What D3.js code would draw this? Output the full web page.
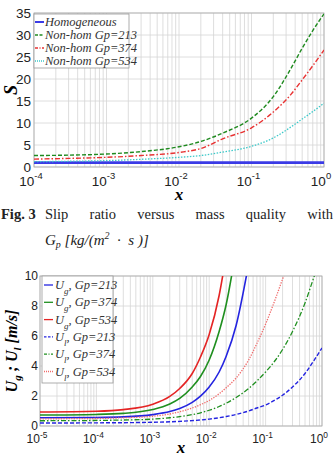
<!DOCTYPE html>
<html>
<head>
<meta charset="utf-8">
<script src="https://cdn.jsdelivr.net/npm/d3@7"></script>
<style>
  body { margin: 0; background: #fff; }
  svg { display: block; }
</style>
</head>
<body>
<div id="vis"></div>
<script>
const FRAME_WIDTH = 334;
const FRAME_HEIGHT = 456;

// ---- chart 1: slip ratio S vs x ----
const S_X = [1e-4, 3e-4, 1e-3, 3e-3, 1e-2, 2e-2, 4e-2, 0.1, 0.2, 0.35, 0.5, 0.7, 1];
const S_HOMOG = [1, 1, 1, 1, 1, 1, 1, 1, 1, 1, 1, 1, 1];
const S_GP213 = [2.6, 2.7, 2.95, 3.5, 4.6, 5.8, 7.7, 11.1, 16, 22.4, 27, 31, 34.8];
const S_GP374 = [1.8, 1.95, 2.2, 2.6, 3.3, 4.2, 6.4, 8.9, 12.5, 16.5, 19.8, 23, 26.6];
const S_GP534 = [1.2, 1.3, 1.45, 1.75, 2.2, 2.6, 3.4, 4.7, 6.6, 9.1, 10.9, 12.6, 14.5];
const S_LEGEND = ["Homogeneous", "Non-hom Gp=213", "Non-hom Gp=374", "Non-hom Gp=534"];
const S_YTICKS = [0, 5, 10, 15, 20, 25, 30, 35];

// ---- chart 2: velocities vs x ----
const U_X = [1e-5, 1e-4, 3e-4, 1e-3, 2e-3, 3e-3, 5e-3, 7e-3, 1e-2, 1.5e-2, 2e-2, 3e-2,
  5e-2, 7e-2, 0.1, 0.15, 0.2, 0.3, 0.5, 0.7, 1];
const UG_213 = [0.55, 0.57, 0.61, 0.76, 0.96, 1.17, 1.58, 1.99, 2.6, 3.6, 4.65, 6.7, 10.8];
const UG_374 = [0.73, 0.77, 0.84, 1.1, 1.47, 1.84, 2.6, 3.3, 4.4, 6.3, 8.1, 11.8];
const UG_534 = [0.93, 0.98, 1.09, 1.45, 1.97, 2.5, 3.5, 4.6, 6.1, 8.7, 11.4];
const UL_213 = [0.2, 0.21, 0.22, 0.25, 0.28, 0.31, 0.36, 0.4, 0.46, 0.55, 0.63, 0.77,
  1.0, 1.2, 1.4, 1.75, 2.05, 2.6, 3.5, 4.3, 5.2];
const UL_374 = [0.35, 0.37, 0.4, 0.46, 0.55, 0.62, 0.76, 0.88, 1.05, 1.3, 1.52, 1.9,
  2.5, 3.0, 3.6, 4.4, 5.1, 6.3, 8.2, 9.8, 11.5];
const UL_534 = [0.48, 0.5, 0.55, 0.65, 0.8, 0.95, 1.2, 1.42, 1.7, 2.15, 2.55, 3.2,
  4.4, 5.5, 6.8, 8.5, 9.8, 11.5];
const U_LEGEND = [["g", ", Gp=213"], ["g", ", Gp=374"], ["g", ", Gp=534"],
  ["l", ", Gp=213"], ["l", ", Gp=374"], ["l", ", Gp=534"]];
const U_YTICKS = [0, 2, 4, 6, 8, 10];

const CAPTION_WORDS = ["Slip", "ratio", "versus", "mass", "quality", "with"];

const SERIF = "'Liberation Serif', 'DejaVu Serif', serif";
const SANS = "'Liberation Sans', Arial, sans-serif";

const svg = d3.select("#vis").append("svg")
  .attr("width", FRAME_WIDTH)
  .attr("height", FRAME_HEIGHT);

function drawPanel(cfg) {
  const X = d3.scaleLog().domain(cfg.xDomain).range([cfg.left, cfg.right]);
  const Y = d3.scaleLinear().domain(cfg.yDomain).range([cfg.bottom, cfg.top]);
  const g = svg.append("g");

  g.append("clipPath").attr("id", cfg.id + "-clip")
    .append("rect")
    .attr("x", cfg.left).attr("y", cfg.top)
    .attr("width", cfg.right - cfg.left).attr("height", cfg.bottom - cfg.top);

  // grid
  g.selectAll(".vgrid").data(X.ticks()).enter().append("line")
    .attr("x1", (d) => X(d)).attr("x2", (d) => X(d))
    .attr("y1", cfg.top).attr("y2", cfg.bottom)
    .attr("stroke", "#d6d6d6").attr("stroke-width", 0.8);
  g.selectAll(".hgrid").data(cfg.yTicks).enter().append("line")
    .attr("x1", cfg.left).attr("x2", cfg.right)
    .attr("y1", (d) => Y(d)).attr("y2", (d) => Y(d))
    .attr("stroke", "#d6d6d6").attr("stroke-width", 0.8);

  g.append("rect")
    .attr("x", cfg.left).attr("y", cfg.top)
    .attr("width", cfg.right - cfg.left).attr("height", cfg.bottom - cfg.top)
    .attr("fill", "none").attr("stroke", "#aaa").attr("stroke-width", 0.8);

  // y tick labels
  g.selectAll(".ylab").data(cfg.yTicks).enter().append("text")
    .attr("x", cfg.left - cfg.yLabGap)
    .attr("y", (d) => Y(d))
    .attr("dy", "0.36em")
    .attr("text-anchor", "end")
    .style("font-family", SANS)
    .style("font-size", cfg.tickSize + "px")
    .attr("fill", "#222")
    .text((d) => d);

  // x tick labels 10^n
  const majors = X.ticks().filter((d) => Math.abs(Math.log10(d) - Math.round(Math.log10(d))) < 1e-9);
  const xl = g.selectAll(".xlab").data(majors).enter().append("text")
    .attr("x", (d) => X(d) - 3)
    .attr("y", cfg.bottom + cfg.tickSize + 5)
    .attr("text-anchor", "middle")
    .style("font-family", SANS)
    .style("font-size", cfg.tickSize + "px")
    .attr("fill", "#222");
  xl.append("tspan").text("10");
  xl.append("tspan")
    .attr("dy", -cfg.tickSize * 0.45)
    .style("font-size", (cfg.tickSize * 0.7) + "px")
    .text((d) => {
      const e = Math.round(Math.log10(d));
      return e < 0 ? "-" + (-e) : String(e);
    });

  // x label
  g.append("text")
    .attr("x", (cfg.left + cfg.right) / 2)
    .attr("y", cfg.xLabelY)
    .attr("text-anchor", "middle")
    .style("font-family", SERIF)
    .style("font-style", "italic")
    .style("font-weight", "bold")
    .style("font-size", "17px")
    .text("x");

  // series
  const lines = g.append("g").attr("clip-path", `url(#${cfg.id}-clip)`);
  cfg.series.forEach((s) => {
    const pts = s.values.map((v, i) => [cfg.xs[i], v]);
    const line = d3.line()
      .x((d) => X(d[0]))
      .y((d) => Y(d[1]))
      .curve(d3.curveMonotoneX);
    lines.append("path")
      .attr("d", line(pts))
      .attr("fill", "none")
      .attr("stroke", s.color)
      .attr("stroke-width", s.width)
      .attr("stroke-dasharray", s.dash);
  });

  return { X, Y, g };
}

// ---------- panel 1 ----------
const P1 = drawPanel({
  id: "p1",
  xDomain: [1e-4, 1], yDomain: [0, 35],
  left: 34, right: 324, top: 13, bottom: 167,
  yTicks: S_YTICKS, tickSize: 13.5, yLabGap: 3, xLabelY: 200,
  xs: S_X,
  series: [
    { values: S_HOMOG, color: "#3b3be6", width: 2.6, dash: null },
    { values: S_GP213, color: "#1f8a1f", width: 1.4, dash: "4,2" },
    { values: S_GP374, color: "#e83232", width: 1.4, dash: "5,2,1.5,2" },
    { values: S_GP534, color: "#3cc9c9", width: 1.3, dash: "1.5,1.5" },
  ],
});

P1.g.append("text")
  .attr("transform", "translate(17,90) rotate(-90)")
  .attr("text-anchor", "middle")
  .style("font-family", SERIF)
  .style("font-style", "italic")
  .style("font-weight", "bold")
  .style("font-size", "18px")
  .text("S");

const LEG1 = { x: 34, y: 14, w: 95, h: 54 };
const leg1 = P1.g.append("g");
leg1.append("rect")
  .attr("x", LEG1.x).attr("y", LEG1.y).attr("width", LEG1.w).attr("height", LEG1.h)
  .attr("fill", "#fff").attr("stroke", "#999").attr("stroke-width", 0.8);
const leg1Styles = [
  { color: "#3b3be6", width: 2, dash: null },
  { color: "#1f8a1f", width: 1.3, dash: "3,1.5" },
  { color: "#e83232", width: 1.3, dash: "3,1.5,1,1.5" },
  { color: "#3cc9c9", width: 1.3, dash: "1,1" },
];
S_LEGEND.forEach((name, i) => {
  const cy = 22 + i * 13;
  leg1.append("line")
    .attr("x1", LEG1.x + 1).attr("x2", LEG1.x + 10)
    .attr("y1", cy).attr("y2", cy)
    .attr("stroke", leg1Styles[i].color)
    .attr("stroke-width", leg1Styles[i].width)
    .attr("stroke-dasharray", leg1Styles[i].dash);
  leg1.append("text")
    .attr("x", LEG1.x + 11).attr("y", cy).attr("dy", "0.35em")
    .style("font-family", SERIF)
    .style("font-style", "italic")
    .style("font-size", "12.5px")
    .attr("fill", "#333")
    .text(name);
});

// ---------- caption ----------
const cap = svg.append("g");
const capY = 219;
cap.append("text")
  .attr("x", 1).attr("y", capY)
  .style("font-family", SERIF).style("font-weight", "bold").style("font-size", "14.5px")
  .attr("fill", "#222")
  .text("Fig. 3");
const words = cap.selectAll(".w").data(CAPTION_WORDS).enter().append("text")
  .attr("y", capY)
  .style("font-family", SERIF).style("font-size", "14.5px")
  .attr("fill", "#222")
  .text((d) => d);
{
  const startX = 45, endX = 333;
  const widths = [];
  words.each(function () { widths.push(this.getComputedTextLength()); });
  const gap = (endX - startX - d3.sum(widths)) / (widths.length - 1);
  let cx = startX;
  words.attr("x", (d, i) => { const x0 = cx; cx += widths[i] + gap; return x0; });
}
const cap2 = cap.append("text")
  .attr("x", 45).attr("y", 245)
  .style("font-family", SERIF).style("font-style", "italic").style("font-size", "15px")
  .attr("fill", "#222");
cap2.append("tspan").text("G");
cap2.append("tspan").attr("dy", 3).style("font-size", "10px").text("p");
cap2.append("tspan").attr("dy", -3).text(" [kg/(m");
cap2.append("tspan").attr("dy", -6).style("font-size", "10px").text("2");
cap2.append("tspan").attr("dy", 6).text(" \u00a0\u00b7\u00a0 s )]");

// ---------- panel 2 ----------
const P2 = drawPanel({
  id: "p2",
  xDomain: [1e-5, 1], yDomain: [0, 10],
  left: 40, right: 322, top: 276, bottom: 426,
  yTicks: U_YTICKS, tickSize: 12, yLabGap: 2, xLabelY: 453,
  xs: U_X,
  series: [
    { values: UG_213, color: "#2424e0", width: 1.6, dash: null },
    { values: UG_374, color: "#1f8f1f", width: 1.6, dash: null },
    { values: UG_534, color: "#e42424", width: 1.6, dash: null },
    { values: UL_213, color: "#2424e0", width: 1.4, dash: "4,2" },
    { values: UL_374, color: "#1f8f1f", width: 1.3, dash: "5,2,1.5,2" },
    { values: UL_534, color: "#f06a6a", width: 1.3, dash: "1.3,1.3" },
  ],
});

const yl2 = P2.g.append("text")
  .attr("transform", "translate(17,351) rotate(-90)")
  .attr("text-anchor", "middle")
  .style("font-family", SERIF)
  .style("font-style", "italic")
  .style("font-weight", "bold")
  .style("font-size", "16px");
yl2.append("tspan").text("U");
yl2.append("tspan").attr("dy", 4).style("font-size", "11px").text("g");
yl2.append("tspan").attr("dy", -4).text(" ; U");
yl2.append("tspan").attr("dy", 4).style("font-size", "11px").text("l");
yl2.append("tspan").attr("dy", -4).text(" [m/s]");

const LEG2 = { x: 42, y: 276, w: 71, h: 107 };
const leg2 = P2.g.append("g");
leg2.append("rect")
  .attr("x", LEG2.x).attr("y", LEG2.y).attr("width", LEG2.w).attr("height", LEG2.h)
  .attr("fill", "#fff").attr("stroke", "#999").attr("stroke-width", 0.8);
const leg2Styles = [
  { color: "#2424e0", dash: null },
  { color: "#1f8f1f", dash: null },
  { color: "#e42424", dash: null },
  { color: "#2424e0", dash: "2.5,1.5" },
  { color: "#1f8f1f", dash: "3,1.5,1,1.5" },
  { color: "#f06a6a", dash: "1,1" },
];
U_LEGEND.forEach((item, i) => {
  const cy = 285 + i * 17.3;
  leg2.append("line")
    .attr("x1", LEG2.x + 2).attr("x2", LEG2.x + 11)
    .attr("y1", cy).attr("y2", cy)
    .attr("stroke", leg2Styles[i].color)
    .attr("stroke-width", 1.3)
    .attr("stroke-dasharray", leg2Styles[i].dash);
  const t = leg2.append("text")
    .attr("x", LEG2.x + 13).attr("y", cy + 4)
    .style("font-family", SERIF)
    .style("font-style", "italic")
    .style("font-size", "12.5px")
    .attr("fill", "#333");
  t.append("tspan").text("U");
  t.append("tspan").attr("dy", 5).style("font-size", "9px").text(item[0]);
  t.append("tspan").attr("dy", -5).text(item[1]);
});
</script>
</body>
</html>
